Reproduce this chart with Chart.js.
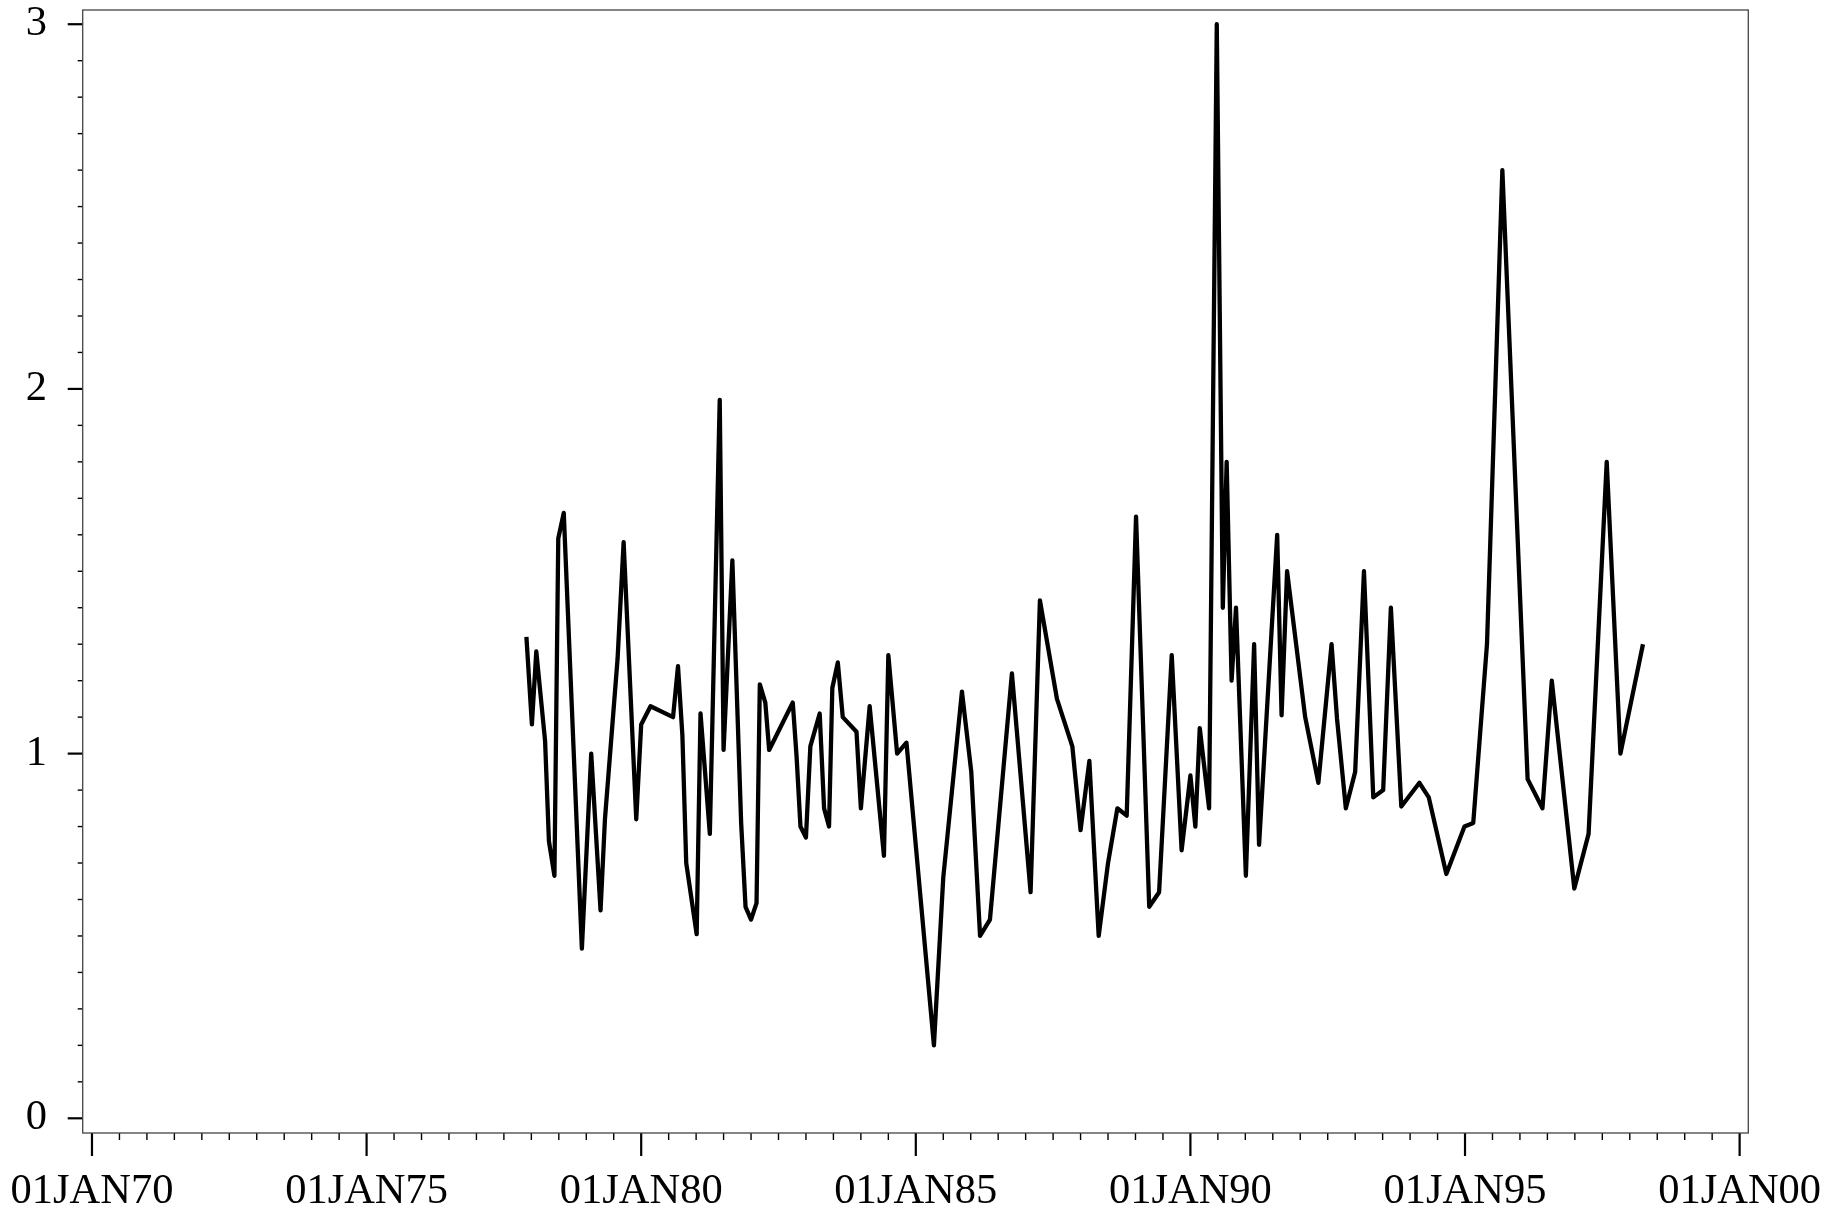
<!DOCTYPE html>
<html>
<head>
<meta charset="UTF-8">
<title>Series</title>
<script src="https://cdn.jsdelivr.net/npm/chart.js"></script>
<style>
  html, body { margin: 0; padding: 0; background: #fff; }
  #wrap { width: 1825px; height: 1207px; }
</style>
</head>
<body>
<div id="wrap"><canvas id="grafico" width="1825" height="1207"></canvas></div>
<script>
// dates as decimal years
const datas = [
  1977.91, 1978.01, 1978.09, 1978.25, 1978.32, 1978.42, 1978.49, 1978.59, 1978.92, 1979.09,
  1979.26, 1979.34, 1979.57, 1979.68, 1979.91, 1980.00, 1980.17, 1980.58, 1980.67, 1980.75,
  1980.82, 1981.01, 1981.08, 1981.25, 1981.43, 1981.50, 1981.66, 1981.82, 1981.90, 1982.00,
  1982.10, 1982.16, 1982.26, 1982.33, 1982.76, 1982.83, 1982.90, 1983.00, 1983.08, 1983.25,
  1983.33, 1983.42, 1983.48, 1983.58, 1983.67, 1983.92, 1984.00, 1984.16, 1984.42, 1984.50,
  1984.66, 1984.83, 1985.33, 1985.50, 1985.84, 1986.01, 1986.17, 1986.35, 1986.75, 1987.09,
  1987.26, 1987.57, 1987.85, 1988.00, 1988.16, 1988.33, 1988.50, 1988.67, 1988.84, 1989.01,
  1989.25, 1989.43, 1989.66, 1989.84, 1990.00, 1990.09, 1990.17, 1990.34, 1990.48, 1990.59,
  1990.66, 1990.75, 1990.83, 1991.01, 1991.16, 1991.25, 1991.58, 1991.66, 1991.76, 1992.09,
  1992.33, 1992.57, 1992.67, 1992.83, 1993.00, 1993.16, 1993.33, 1993.51, 1993.65, 1993.84,
  1994.17, 1994.34, 1994.66, 1994.99, 1995.15, 1995.40, 1995.68, 1996.14, 1996.41, 1996.58,
  1996.99, 1997.25, 1997.58, 1997.83, 1998.24
];
const valores = [
  1.32, 1.08, 1.28, 1.035, 0.76, 0.665, 1.59, 1.66, 0.465, 1.00,
  0.57, 0.82, 1.26, 1.58, 0.82, 1.08, 1.13, 1.10, 1.24, 1.05,
  0.70, 0.505, 1.11, 0.78, 1.97, 1.01, 1.53, 0.81, 0.58, 0.545,
  0.59, 1.19, 1.14, 1.01, 1.14, 0.99, 0.80, 0.77, 1.02, 1.11,
  0.85, 0.80, 1.18, 1.25, 1.10, 1.06, 0.85, 1.13, 0.72, 1.27,
  1.00, 1.03, 0.20, 0.66, 1.17, 0.95, 0.50, 0.545, 1.22, 0.62,
  1.42, 1.15, 1.02, 0.79, 0.98, 0.50, 0.70, 0.85, 0.83, 1.65,
  0.58, 0.62, 1.27, 0.735, 0.94, 0.80, 1.07, 0.85, 3.00, 1.40,
  1.80, 1.20, 1.40, 0.665, 1.30, 0.75, 1.60, 1.105, 1.50, 1.10,
  0.92, 1.30, 1.095, 0.85, 0.95, 1.50, 0.88, 0.90, 1.40, 0.855,
  0.92, 0.88, 0.67, 0.80, 0.81, 1.30, 2.60, 0.93, 0.85, 1.20,
  0.63, 0.78, 1.80, 1.00, 1.30
];

// axis ticks
const anosRotulo = [1970, 1975, 1980, 1985, 1990, 1995, 2000];
const anosMenores = [];
for (let a = 1970; a <= 2000; a += 0.5) anosMenores.push(a);
const yRotulo = [0, 1, 2, 3];
const yMenores = [];
for (let i = 0; i <= 30; i++) yMenores.push(i / 10);

const fonte = { family: '"Liberation Serif", "Times New Roman", serif', size: 42.5 };

function rotuloData(v) {
    return '01JAN' + String(Math.round(v) % 100).padStart(2, '0');
}

// frame + tick marks drawn from the scales
const molduraTicks = {
    id: 'molduraTicks',
    afterDraw(chart) {
        const ctx = chart.ctx;
        const area = chart.chartArea;
        const sx = chart.scales.x;
        const sy = chart.scales.y;
        ctx.save();
        ctx.strokeStyle = '#000';

        anosMenores.forEach(a => {
            const major = a % 5 === 0;
            const px = sx.getPixelForValue(a);
            ctx.lineWidth = major ? 2.2 : 1.4;
            ctx.beginPath();
            ctx.moveTo(px, area.bottom);
            ctx.lineTo(px, area.bottom + (major ? 23 : 7));
            ctx.stroke();
        });

        yMenores.forEach((v, i) => {
            const major = i % 10 === 0;
            const py = sy.getPixelForValue(v);
            ctx.lineWidth = major ? 2.2 : 1.4;
            ctx.beginPath();
            ctx.moveTo(area.left, py);
            ctx.lineTo(area.left - (major ? 15 : 5), py);
            ctx.stroke();
        });

        ctx.strokeStyle = '#444';
        ctx.lineWidth = 1.3;
        ctx.strokeRect(area.left, area.top, area.right - area.left, area.bottom - area.top);
        ctx.restore();
    }
};

function semPadding(s) {
    s.paddingTop = 0;
    s.paddingBottom = 0;
    s.paddingLeft = 0;
    s.paddingRight = 0;
}

const contexto = document.getElementById('grafico').getContext('2d');
new Chart(contexto, {
    type: 'line',
    data: {
        datasets: [{
            data: datas.map((d, i) => ({ x: d, y: valores[i] })),
            borderColor: '#000',
            borderWidth: 4.3,
            borderJoinStyle: 'round',
            pointRadius: 0,
            tension: 0,
            fill: false
        }]
    },
    options: {
        responsive: false,
        animation: false,
        layout: { padding: { top: 10, right: 76.7, left: 0, bottom: 0 } },
        plugins: {
            legend: { display: false },
            tooltip: { enabled: false }
        },
        scales: {
            x: {
                type: 'linear',
                min: 1969.831,
                max: 2000.158,
                afterBuildTicks: s => { s.ticks = anosRotulo.map(v => ({ value: v })); },
                afterFit: s => { s.height = 74; semPadding(s); },
                grid: { display: false },
                border: { display: false },
                ticks: {
                    callback: v => rotuloData(v),
                    font: fonte,
                    color: '#000',
                    padding: 25,
                    maxRotation: 0,
                    autoSkip: false
                }
            },
            y: {
                min: -0.0403,
                max: 3.039,
                afterBuildTicks: s => { s.ticks = yRotulo.map(v => ({ value: v })); },
                afterFit: s => { s.width = 82.7; semPadding(s); },
                grid: { display: false },
                border: { display: false },
                ticks: {
                    callback: v => String(v),
                    font: fonte,
                    color: '#000',
                    padding: 27.7
                }
            }
        }
    },
    plugins: [molduraTicks]
});
</script>
</body>
</html>
